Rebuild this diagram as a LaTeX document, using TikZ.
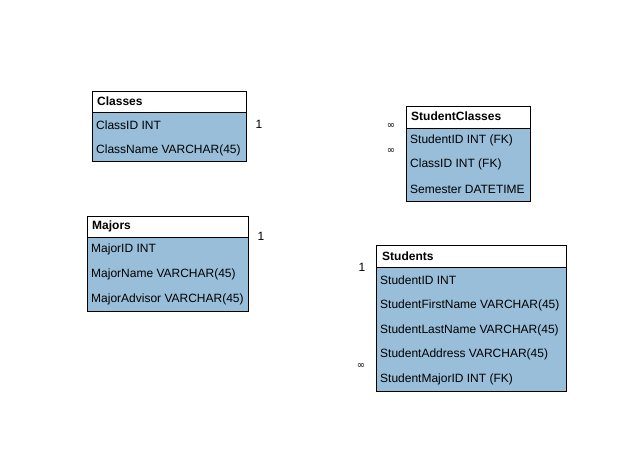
\documentclass[tikz,border=0pt]{standalone}
\usepackage{fontspec}
\setmainfont{Liberation Sans}
\newfontfamily\symfont{DejaVu Sans}
\definecolor{tblue}{RGB}{152,190,218}
\tikzset{
  ttitle/.style={draw=black, line width=0.9pt, fill=white, anchor=north west, inner sep=0pt},
  tbody/.style={draw=black, line width=0.9pt, fill=tblue, anchor=north west, inner sep=0pt},
  ttext/.style={anchor=west, inner sep=0pt, font=\fontsize{12}{14}\selectfont\bfseries},
  rtext/.style={anchor=west, inner sep=0pt, font=\fontsize{12}{14}\selectfont},
  card/.style={inner sep=0pt, font=\fontsize{12}{14}\selectfont},
  inf/.style={inner sep=0pt, font=\symfont\fontsize{10}{12}\selectfont},
}
\begin{document}
\begin{tikzpicture}[x=1pt,y=-1pt]
\useasboundingbox (0,0) rectangle (635,466);
% Classes
\node[ttitle, minimum width=154, minimum height=21] (clT) at (92,91) {};
\node[tbody, minimum width=154, minimum height=49] (clB) at (92,112) {};
\node[ttext] (clN) at (97,101.5) {Classes};
\node[rtext] (cl1) at (96,125) {ClassID INT};
\node[rtext] (cl2) at (96,150) {ClassName VARCHAR(45)};
% StudentClasses
\node[ttitle, minimum width=124, minimum height=22] (scT) at (406,106) {};
\node[tbody, minimum width=124, minimum height=73] (scB) at (406,128) {};
\node[ttext] (scN) at (411,116.5) {StudentClasses};
\node[rtext] (sc1) at (410,140) {StudentID INT (FK)};
\node[rtext] (sc2) at (410,164) {ClassID INT (FK)};
\node[rtext] (sc3) at (410,189) {Semester DATETIME};
% Majors
\node[ttitle, minimum width=161, minimum height=21] (mjT) at (87,216) {};
\node[tbody, minimum width=161, minimum height=74] (mjB) at (87,237) {};
\node[ttext] (mjN) at (92,226.5) {Majors};
\node[rtext] (mj1) at (91,249) {MajorID INT};
\node[rtext] (mj2) at (91,274) {MajorName VARCHAR(45)};
\node[rtext] (mj3) at (91,299) {MajorAdvisor VARCHAR(45)};
% Students
\node[ttitle, minimum width=190, minimum height=22] (stT) at (376,245) {};
\node[tbody, minimum width=190, minimum height=124] (stB) at (376,267) {};
\node[ttext] (stN) at (382,256) {Students};
\node[rtext] (st1) at (380,280) {StudentID INT};
\node[rtext] (st2) at (380,305) {StudentFirstName VARCHAR(45)};
\node[rtext] (st3) at (380,330) {StudentLastName VARCHAR(45)};
\node[rtext] (st4) at (380,354) {StudentAddress VARCHAR(45)};
\node[rtext] (st5) at (380,379) {StudentMajorID INT (FK)};
% cardinalities
\node[card] (c1) at (259,124) {1};
\node[card] (c2) at (261,236) {1};
\node[card] (c3) at (362,267) {1};
\node[inf] (i1) at (391,126) {∞};
\node[inf] (i2) at (391,151) {∞};
\node[inf] (i3) at (361,366) {∞};
\end{tikzpicture}
\end{document}
